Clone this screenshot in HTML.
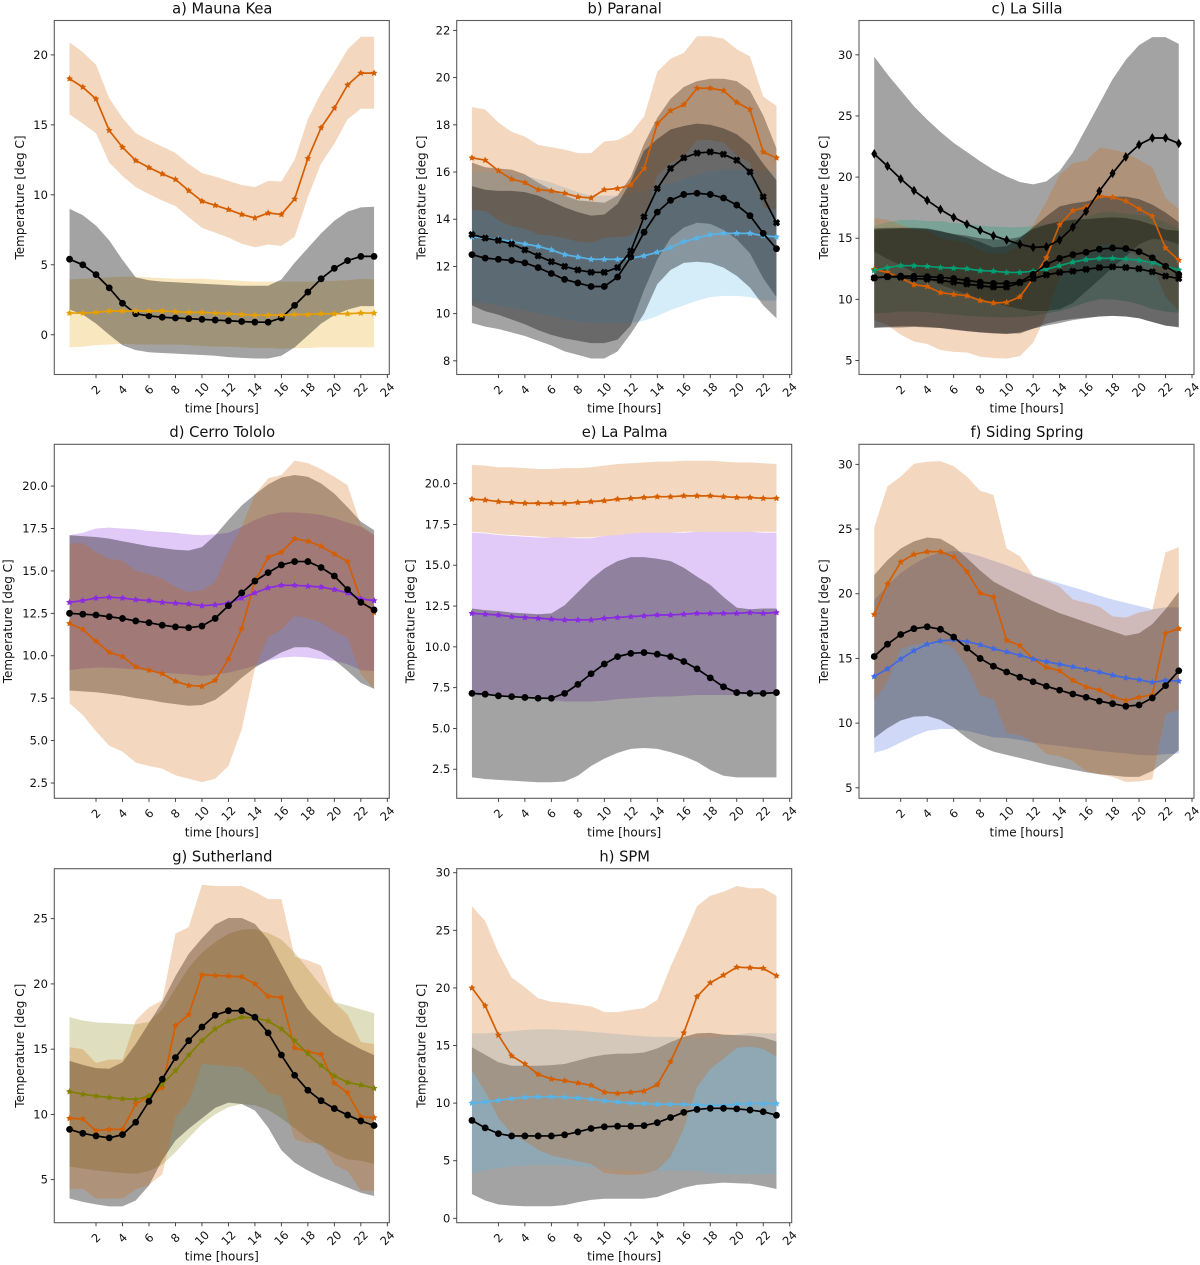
<!DOCTYPE html>
<html lang="en">
<head>
<meta charset="utf-8">
<title>Diurnal temperature at eight observatory sites</title>
<style>
html,body{margin:0;padding:0;background:#fff;width:1200px;height:1265px;overflow:hidden}
svg{display:block;filter:blur(0.35px)}
text{font-family:"DejaVu Sans","Liberation Sans",sans-serif;fill:#111}
</style>
</head>
<body>
<svg id="chart" xmlns="http://www.w3.org/2000/svg" width="1200" height="1265" viewBox="0 0 1200 1265"></svg>
<script>
const hours = [0,1,2,3,4,5,6,7,8,9,10,11,12,13,14,15,16,17,18,19,20,21,22,23];
const xTicks = [2,4,6,8,10,12,14,16,18,20,22,24];

/* a) Mauna Kea */
const aYTicks = ["0","5","10","15","20"];
const aOrangeMean = [18.3,17.7,16.85,14.6,13.4,12.45,11.95,11.5,11.1,10.3,9.55,9.25,8.95,8.6,8.35,8.7,8.6,9.7,12.6,14.8,16.2,17.85,18.7,18.7];
const aOrangeUpper = [20.9,20.2,19.3,16.9,15.5,14.4,13.9,13.45,13.0,12.2,11.55,11.3,11.0,10.7,10.55,11.0,10.95,12.5,15.4,17.3,18.8,20.4,21.3,21.3];
const aOrangeLower = [15.75,15.1,14.4,12.3,11.35,10.55,10.05,9.6,9.2,8.4,7.65,7.3,6.95,6.5,6.25,6.45,6.35,7.0,9.85,12.25,13.65,15.4,16.15,16.15];
const aBlackMean = [5.4,5.0,4.3,3.35,2.25,1.5,1.35,1.25,1.2,1.15,1.1,1.05,1.0,0.95,0.9,0.9,1.2,2.1,3.05,4.0,4.75,5.3,5.6,5.6];
const aBlackUpper = [9.0,8.55,7.8,6.75,5.35,4.1,3.9,3.8,3.75,3.7,3.65,3.6,3.55,3.5,3.5,3.5,3.95,5.15,6.2,7.25,8.15,8.8,9.1,9.15];
const aBlackLower = [1.8,1.45,0.8,0.0,-0.75,-1.1,-1.25,-1.3,-1.35,-1.4,-1.45,-1.5,-1.6,-1.65,-1.7,-1.7,-1.5,-0.9,-0.05,0.8,1.4,1.8,2.05,2.05];
const aYellowMean = [1.55,1.55,1.6,1.7,1.7,1.7,1.7,1.7,1.65,1.6,1.6,1.55,1.5,1.45,1.4,1.4,1.4,1.45,1.45,1.5,1.5,1.5,1.55,1.55];
const aYellowUpper = [3.95,4.0,4.05,4.1,4.15,4.15,4.1,4.05,4.0,4.0,4.0,3.95,3.9,3.85,3.8,3.8,3.8,3.8,3.8,3.85,3.85,3.9,4.0,3.95];
const aYellowLower = [-0.9,-0.85,-0.75,-0.7,-0.65,-0.7,-0.7,-0.7,-0.7,-0.75,-0.8,-0.85,-0.85,-0.9,-0.95,-0.95,-1.0,-0.95,-0.95,-0.9,-0.9,-0.9,-0.9,-0.9];

/* b) Paranal */
const bYTicks = ["8","10","12","14","16","18","20","22"];
const bOrangeMean = [16.6,16.5,16.05,15.7,15.55,15.25,15.2,15.1,14.95,14.9,15.25,15.3,15.45,16.15,18.05,18.6,18.85,19.55,19.55,19.45,18.95,18.65,16.85,16.6];
const bOrangeUpper = [18.75,18.65,18.1,17.7,17.5,17.15,17.05,16.95,16.8,16.8,17.3,17.35,17.65,18.35,20.25,20.8,21.05,21.75,21.75,21.65,21.2,20.9,19.2,18.8];
const bOrangeLower = [14.4,14.35,13.95,13.7,13.6,13.35,13.3,13.2,13.05,13.0,13.2,13.25,13.3,13.95,15.85,16.4,16.65,17.35,17.35,17.25,16.7,16.4,14.5,14.4];
const bBlackXMean = [13.35,13.2,13.1,12.95,12.7,12.45,12.2,12.0,11.85,11.75,11.75,11.95,12.65,14.1,15.3,16.15,16.6,16.8,16.85,16.75,16.5,16.0,14.95,13.85];
const bBlackXUpper = [16.4,16.2,16.15,16.1,15.9,15.55,15.25,15.0,14.8,14.75,14.7,15.0,15.8,17.2,18.3,19.1,19.6,19.85,19.95,19.95,19.85,19.45,18.4,17.0];
const bBlackXLower = [10.35,10.1,9.95,9.75,9.55,9.3,9.1,8.95,8.85,8.75,8.75,8.9,9.5,11.0,12.3,13.2,13.65,13.85,13.8,13.55,13.15,12.55,11.5,10.7];
const bBlackMean = [12.5,12.35,12.3,12.25,12.15,11.95,11.7,11.45,11.3,11.15,11.15,11.55,12.4,13.45,14.3,14.8,15.05,15.1,15.05,14.9,14.6,14.15,13.4,12.75];
const bBlackUpper = [15.4,15.25,15.2,15.2,15.15,15.0,14.75,14.5,14.3,14.15,14.2,14.65,15.6,16.9,17.4,17.8,17.95,18.05,18.0,17.85,17.6,17.15,16.35,15.65];
const bBlackLower = [9.6,9.45,9.35,9.2,9.05,8.85,8.65,8.4,8.25,8.1,8.1,8.4,9.15,10.0,11.25,11.85,12.15,12.2,12.15,11.95,11.6,11.1,10.35,9.8];
const bSkyMean = [13.25,13.2,13.15,13.05,12.95,12.85,12.7,12.5,12.4,12.3,12.3,12.3,12.35,12.45,12.6,12.8,13.05,13.2,13.35,13.4,13.4,13.4,13.3,13.25];
const bSkyUpper = [16.05,16.0,15.95,15.9,15.85,15.7,15.55,15.35,15.15,15.0,15.0,15.0,15.1,15.2,15.4,15.5,15.7,15.9,16.0,16.1,16.1,16.1,16.05,16.05];
const bSkyLower = [10.5,10.45,10.35,10.25,10.15,10.0,9.9,9.75,9.65,9.6,9.6,9.6,9.6,9.7,9.9,10.15,10.35,10.55,10.7,10.75,10.75,10.7,10.55,10.55];

/* c) La Silla */
const cYTicks = ["5","10","15","20","25","30"];
const cOrangeMean = [12.45,12.2,11.75,11.2,11.05,10.55,10.4,10.3,9.9,9.7,9.75,10.2,11.7,13.4,16.1,17.25,17.55,18.45,18.35,18.05,17.4,16.8,14.2,13.2];
const cOrangeUpper = [16.65,16.5,16.1,15.7,15.6,15.0,14.8,14.6,14.0,13.7,13.8,14.4,16.1,18.0,20.2,21.15,21.35,22.4,22.25,22.0,21.4,20.8,18.3,17.4];
const cOrangeLower = [8.3,7.9,7.1,6.55,6.35,5.85,5.7,5.65,5.3,5.2,5.15,5.35,6.45,8.75,11.9,13.2,13.6,14.5,14.5,14.1,13.4,12.8,10.2,9.1];
const cDiamondMean = [21.9,20.9,19.85,18.9,18.1,17.35,16.7,16.15,15.65,15.2,14.85,14.5,14.25,14.3,14.85,15.9,17.2,18.85,20.3,21.65,22.65,23.2,23.2,22.75];
const cDiamondUpper = [29.85,28.4,27.1,25.8,24.7,23.7,22.8,22.05,21.3,20.6,20.05,19.6,19.4,19.65,20.5,22.0,24.0,26.0,28.0,29.6,30.8,31.45,31.45,30.9];
const cDiamondLower = [13.9,13.3,12.8,12.2,11.7,11.2,10.8,10.4,10.05,9.75,9.45,9.2,9.05,9.05,9.2,9.7,10.65,11.6,12.6,13.5,14.5,14.95,14.85,14.5];
const cCircleMean = [11.75,11.85,11.9,11.9,11.85,11.8,11.7,11.55,11.4,11.3,11.3,11.4,12.05,12.85,13.35,13.65,13.85,14.1,14.2,14.15,13.9,13.4,12.7,12.05];
const cCircleUpper = [15.8,15.85,15.85,15.85,15.8,15.6,15.3,15.05,14.7,14.25,14.35,15.0,15.9,16.8,17.6,17.85,18.0,18.3,18.4,18.4,18.2,17.75,17.1,16.3];
const cCircleLower = [7.7,7.7,7.7,7.75,7.7,7.65,7.5,7.4,7.3,7.25,7.2,7.2,7.6,7.85,8.05,8.3,8.45,8.6,8.65,8.6,8.45,8.15,7.85,7.7];
const cXMean = [11.75,11.85,11.8,11.7,11.65,11.55,11.4,11.25,11.1,11.0,11.0,11.35,11.7,12.0,12.2,12.3,12.45,12.6,12.65,12.6,12.5,12.25,11.9,11.7];
const cXUpper = [15.7,15.75,15.8,15.8,15.75,15.55,15.35,15.2,15.0,14.9,14.9,15.1,15.75,16.1,16.35,16.5,16.55,16.65,16.7,16.65,16.45,16.1,15.7,15.6];
const cXLower = [7.65,7.75,7.8,7.8,7.75,7.65,7.55,7.4,7.3,7.2,7.15,7.3,7.6,8.0,8.25,8.4,8.5,8.6,8.65,8.6,8.45,8.15,7.85,7.75];
const cGreenMean = [12.35,12.6,12.75,12.75,12.7,12.6,12.55,12.5,12.35,12.3,12.2,12.2,12.3,12.45,12.75,13.05,13.25,13.35,13.35,13.3,13.2,13.0,12.7,12.4];
const cGreenUpper = [16.0,16.3,16.5,16.5,16.4,16.4,16.25,16.15,16.05,15.95,15.9,15.9,16.0,16.15,16.4,16.55,16.7,17.1,17.15,17.0,16.9,16.7,16.3,15.8];
const cGreenLower = [8.85,8.9,9.0,9.0,8.95,8.85,8.75,8.65,8.6,8.55,8.5,8.55,8.65,8.85,9.05,9.35,9.75,10.0,10.0,9.85,9.6,9.2,9.0,8.9];

/* d) Cerro Tololo */
const dYTicks = ["2.5","5.0","7.5","10.0","12.5","15.0","17.5","20.0"];
const dOrangeMean = [11.9,11.55,10.85,10.2,9.95,9.35,9.15,8.95,8.5,8.25,8.2,8.55,9.8,11.6,14.4,15.8,16.1,16.9,16.75,16.45,16.0,15.55,13.3,12.55];
const dOrangeUpper = [16.6,16.65,16.1,15.7,15.6,15.0,14.8,14.55,14.05,13.75,13.85,14.35,16.1,17.6,19.5,20.45,20.65,21.5,21.35,21.0,20.55,20.05,17.7,17.15];
const dOrangeLower = [7.2,6.5,5.55,4.7,4.35,3.7,3.5,3.35,2.95,2.75,2.55,2.75,3.5,5.65,9.25,11.1,11.55,12.35,12.2,11.95,11.45,11.05,8.9,8.05];
const dBlackMean = [12.5,12.45,12.4,12.3,12.2,12.05,11.95,11.8,11.7,11.65,11.75,12.2,12.95,13.7,14.4,14.9,15.35,15.55,15.55,15.2,14.7,13.9,13.15,12.7];
const dBlackUpper = [17.1,17.05,17.0,16.9,16.75,16.6,16.45,16.35,16.25,16.2,16.4,17.1,18.0,18.85,19.5,20.1,20.5,20.65,20.55,20.15,19.55,18.75,17.9,17.4];
const dBlackLower = [7.95,7.9,7.85,7.75,7.65,7.5,7.4,7.25,7.15,7.05,7.1,7.4,8.0,8.7,9.3,9.75,10.2,10.5,10.5,10.25,9.75,9.1,8.4,8.05];
const dPurpleMean = [13.15,13.25,13.4,13.45,13.4,13.3,13.25,13.15,13.1,13.05,12.95,13.0,13.1,13.4,13.7,14.0,14.15,14.15,14.1,14.05,13.9,13.7,13.35,13.25];
const dPurpleUpper = [17.1,17.25,17.5,17.55,17.5,17.45,17.35,17.3,17.25,17.15,17.1,17.15,17.25,17.6,18.0,18.3,18.45,18.45,18.4,18.3,18.1,17.85,17.6,17.1];
const dPurpleLower = [9.15,9.25,9.3,9.3,9.25,9.2,9.1,9.0,8.95,8.9,8.8,8.9,9.0,9.2,9.4,9.7,9.9,9.95,9.9,9.8,9.7,9.5,9.15,9.1];

/* e) La Palma */
const eYTicks = ["2.5","5.0","7.5","10.0","12.5","15.0","17.5","20.0"];
const eOrangeMean = [19.05,19.0,18.9,18.85,18.8,18.8,18.8,18.8,18.85,18.9,18.95,19.05,19.1,19.15,19.2,19.2,19.25,19.25,19.25,19.2,19.15,19.15,19.1,19.1];
const eOrangeUpper = [21.15,21.1,21.0,21.0,20.95,20.9,20.9,20.95,20.95,21.0,21.1,21.2,21.25,21.3,21.35,21.35,21.4,21.4,21.4,21.35,21.3,21.3,21.25,21.2];
const eOrangeLower = [17.05,17.0,16.9,16.85,16.8,16.75,16.7,16.7,16.7,16.7,16.8,16.85,16.95,17.0,17.0,17.0,17.05,17.05,17.05,17.05,17.05,17.05,17.05,17.05];
const ePurpleMean = [12.05,12.0,11.95,11.85,11.8,11.75,11.7,11.65,11.65,11.65,11.75,11.8,11.85,11.9,11.95,11.95,12.0,12.05,12.05,12.05,12.05,12.1,12.05,12.1];
const ePurpleUpper = [17.0,16.95,16.85,16.8,16.75,16.7,16.7,16.7,16.65,16.65,16.8,16.85,16.95,17.0,17.0,17.0,17.0,17.05,17.05,17.05,17.05,17.05,17.0,17.0];
const ePurpleLower = [7.05,7.0,7.0,6.95,6.9,6.85,6.75,6.65,6.65,6.65,6.7,6.8,6.85,6.9,6.95,6.95,7.0,7.05,7.05,7.05,7.05,7.1,7.1,7.1];
const eBlackMean = [7.15,7.1,7.0,6.95,6.9,6.85,6.85,7.15,7.7,8.35,8.95,9.4,9.6,9.65,9.55,9.4,9.1,8.65,8.1,7.55,7.2,7.15,7.15,7.2];
const eBlackUpper = [12.35,12.25,12.2,12.1,12.05,12.0,12.05,12.55,13.35,14.15,14.8,15.25,15.5,15.5,15.4,15.25,14.85,14.3,13.8,13.05,12.4,12.3,12.35,12.35];
const eBlackLower = [2.0,1.9,1.85,1.8,1.75,1.7,1.7,1.75,2.1,2.7,3.15,3.5,3.75,3.8,3.75,3.55,3.3,2.95,2.45,2.1,2.0,2.0,2.0,2.0];

/* f) Siding Spring */
const fYTicks = ["5","10","15","20","25","30"];
const fOrangeMean = [18.4,20.75,22.45,23.05,23.25,23.25,22.85,21.7,20.05,19.75,16.4,16.0,14.95,14.3,14.05,13.3,12.8,12.55,12.05,11.75,12.0,12.2,16.95,17.3];
const fOrangeUpper = [25.15,28.3,29.05,30.05,30.2,30.25,29.85,29.05,27.95,27.65,23.5,22.9,21.4,21.0,20.55,19.55,19.3,19.0,18.25,18.15,18.55,18.75,23.2,23.6];
const fOrangeLower = [11.7,13.2,15.75,16.05,16.3,16.25,15.8,14.35,12.15,11.85,9.25,9.05,8.55,7.6,7.45,7.05,6.3,6.05,5.85,5.45,5.5,5.65,10.7,11.05];
const fBlackMean = [15.15,16.1,16.85,17.3,17.45,17.25,16.65,15.8,15.0,14.4,13.95,13.55,13.2,12.85,12.55,12.25,12.0,11.7,11.5,11.3,11.4,11.95,12.9,14.05];
const fBlackUpper = [21.45,22.6,23.5,24.05,24.35,24.25,23.65,22.75,21.8,20.95,20.4,19.9,19.4,18.95,18.5,18.15,17.8,17.45,17.1,16.75,16.95,17.65,18.8,20.15];
const fBlackLower = [8.85,9.6,10.2,10.5,10.55,10.25,9.65,8.85,8.2,7.8,7.55,7.3,7.05,6.8,6.6,6.4,6.2,6.05,5.95,5.85,5.85,6.3,7.05,7.9];
const fBlueMean = [13.6,14.2,14.95,15.6,16.1,16.35,16.45,16.3,16.05,15.75,15.5,15.25,14.95,14.75,14.55,14.35,14.15,13.95,13.7,13.5,13.35,13.15,13.3,13.25];
const fBlueUpper = [19.5,20.65,21.6,22.3,22.85,23.2,23.3,23.2,22.9,22.55,22.2,21.8,21.4,21.1,20.8,20.5,20.2,19.85,19.55,19.3,19.05,18.8,18.95,18.95];
const fBlueLower = [7.7,8.0,8.5,9.0,9.4,9.55,9.55,9.4,9.15,8.9,8.85,8.7,8.5,8.35,8.25,8.1,8.0,7.85,7.75,7.65,7.55,7.5,7.6,7.65];

/* g) Sutherland */
const gYTicks = ["5","10","15","20","25"];
const gOrangeMean = [9.7,9.65,8.75,8.85,8.85,10.8,11.4,12.05,16.8,17.65,20.7,20.65,20.6,20.55,20.0,19.05,18.95,15.1,14.8,14.6,12.4,11.65,9.8,9.75];
const gOrangeUpper = [15.15,15.0,13.95,14.2,14.2,17.2,18.2,18.75,23.85,24.35,27.6,27.5,27.5,27.5,27.05,26.5,26.5,22.1,21.8,21.4,18.6,17.65,15.55,15.4];
const gOrangeLower = [4.25,4.3,3.55,3.55,3.55,4.25,4.6,5.4,9.8,10.95,13.85,13.8,13.7,13.6,12.9,11.65,11.4,8.1,7.8,7.8,6.15,5.65,4.15,4.15];
const gBlackMean = [8.85,8.55,8.35,8.2,8.45,9.4,11.0,12.7,14.35,15.65,16.7,17.6,17.95,17.95,17.45,16.25,14.55,13.0,11.85,11.05,10.45,9.95,9.5,9.15];
const gBlackUpper = [14.1,13.8,13.55,13.5,14.0,15.4,17.0,18.6,20.6,22.3,23.5,24.55,25.05,25.05,24.6,23.4,21.5,19.6,18.05,17.0,16.15,15.55,15.0,14.55];
const gBlackLower = [3.55,3.3,3.1,2.95,2.95,3.4,4.55,6.5,8.0,8.9,9.7,10.5,10.9,10.8,10.3,9.0,7.25,6.3,5.7,5.2,4.8,4.4,4.0,3.75];
const gOliveMean = [11.75,11.55,11.4,11.3,11.2,11.15,11.4,12.3,13.35,14.55,15.65,16.55,17.15,17.45,17.4,17.15,16.55,15.65,14.65,13.75,12.95,12.45,12.25,12.0];
const gOliveUpper = [17.45,17.2,17.05,17.0,16.95,16.9,17.1,18.05,19.65,21.25,22.4,23.2,23.85,24.15,24.2,23.9,23.4,22.4,21.15,19.85,18.6,18.35,18.05,17.75];
const gOliveLower = [6.0,5.85,5.7,5.6,5.5,5.45,5.65,6.15,7.1,8.2,9.25,10.0,10.55,10.8,10.7,10.35,9.7,8.95,8.15,7.6,7.0,6.55,6.45,6.2];

/* h) SPM */
const hYTicks = ["0","5","10","15","20","25","30"];
const hOrangeMean = [20.0,18.45,15.9,14.1,13.4,12.5,12.1,11.95,11.75,11.55,10.95,10.85,10.95,11.05,11.6,13.6,16.1,19.25,20.45,21.1,21.8,21.75,21.7,21.05];
const hOrangeUpper = [27.1,25.8,23.05,20.9,20.05,19.1,18.8,18.7,18.55,18.4,17.9,17.9,18.1,18.25,18.95,21.85,24.4,27.1,28.0,28.35,28.85,28.65,28.65,28.0];
const hOrangeLower = [12.85,11.0,8.7,7.35,6.7,5.95,5.45,5.2,4.95,4.7,3.95,3.8,3.75,3.85,4.2,5.35,7.8,11.4,12.95,13.85,14.8,14.9,14.7,14.05];
const hBlackMean = [8.5,7.85,7.35,7.15,7.15,7.15,7.15,7.25,7.5,7.8,7.95,8.0,8.0,8.05,8.3,8.75,9.2,9.45,9.55,9.55,9.5,9.4,9.25,8.95];
const hBlackUpper = [14.85,14.2,13.55,13.25,13.25,13.25,13.3,13.4,13.7,14.0,14.2,14.3,14.3,14.4,14.75,15.3,15.75,16.05,16.1,15.95,15.9,15.85,15.7,15.35];
const hBlackLower = [2.1,1.55,1.2,1.1,1.05,1.05,1.05,1.15,1.4,1.6,1.7,1.7,1.7,1.7,1.85,2.25,2.65,2.9,3.0,3.1,3.05,3.0,2.8,2.55];
const hSkyMean = [10.0,10.1,10.25,10.4,10.5,10.55,10.55,10.5,10.45,10.35,10.2,10.1,10.0,9.95,9.9,9.9,9.9,9.85,9.8,9.8,9.9,9.95,9.95,9.95];
const hSkyUpper = [16.05,16.05,16.15,16.25,16.35,16.4,16.4,16.35,16.3,16.2,16.1,16.0,15.9,15.8,15.75,15.75,15.7,15.65,15.65,15.85,15.95,16.1,16.05,16.05];
const hSkyLower = [3.9,4.15,4.35,4.5,4.6,4.65,4.65,4.6,4.55,4.45,4.3,4.2,4.15,4.1,4.1,4.15,4.15,4.1,3.95,3.85,3.8,3.8,3.85,3.85];

const NS = 'http://www.w3.org/2000/svg';
const svg = document.getElementById('chart');
const ORANGE = '#D55E00', BLACK = '#000000', YELLOW = '#E69F00', SKY = '#56B4E9',
      GREEN = '#009E73', PURPLE = '#8A2BE2', BLUE = '#4169E1', OLIVE = '#808000';

function make(tag, parent, attrs) {
  const el = document.createElementNS(NS, tag);
  for (const k in attrs) el.setAttribute(k, attrs[k]);
  parent.appendChild(el);
  return el;
}

function markerPath(kind, x, y) {
  const f = n => n.toFixed(2);
  if (kind === 'star') {
    let d = '';
    for (let i = 0; i < 10; i++) {
      const r = i % 2 ? 1.8 : 3.6;
      const a = -Math.PI / 2 + i * Math.PI / 5;
      d += (i ? 'L' : 'M') + f(x + r * Math.cos(a)) + ' ' + f(y + r * Math.sin(a));
    }
    return d + 'Z';
  }
  if (kind === 'diamond') {
    return 'M' + f(x) + ' ' + f(y - 4.8) + 'L' + f(x + 3) + ' ' + f(y) + 'L' + f(x) + ' ' + f(y + 4.8) + 'L' + f(x - 3) + ' ' + f(y) + 'Z';
  }
  if (kind === 'x') {
    const a = 3.7, b = 2.3;
    return 'M' + f(x - a) + ' ' + f(y - a + b) + 'L' + f(x - a + b) + ' ' + f(y - a) + 'L' + f(x) + ' ' + f(y - b) +
      'L' + f(x + a - b) + ' ' + f(y - a) + 'L' + f(x + a) + ' ' + f(y - a + b) + 'L' + f(x + b) + ' ' + f(y) +
      'L' + f(x + a) + ' ' + f(y + a - b) + 'L' + f(x + a - b) + ' ' + f(y + a) + 'L' + f(x) + ' ' + f(y + b) +
      'L' + f(x - a + b) + ' ' + f(y + a) + 'L' + f(x - a) + ' ' + f(y + a - b) + 'L' + f(x - b) + ' ' + f(y) + 'Z';
  }
  return 'M' + f(x - 3.4) + ' ' + f(y) + 'A3.4 3.4 0 1 0 ' + f(x + 3.4) + ' ' + f(y) + 'A3.4 3.4 0 1 0 ' + f(x - 3.4) + ' ' + f(y) + 'Z';
}

function drawPanel(p) {
  const width = 335, height = 354;
  const xMin = -1.15, xMax = 24.15;
  const xScale = v => p.left + (v - xMin) / (xMax - xMin) * width;
  const yScale = v => p.top + height - (v - p.yMin) / (p.yMax - p.yMin) * height;

  const g = make('g', svg, {});
  
  

  const title = make('text', g, {x: p.left + width / 2 + 0.5, y: p.top - 7.2, 'text-anchor': 'middle', 'font-size': '14.7'});
  
  
  title.textContent = p.title;

  /* series are listed in band stacking order; z gives the line stacking order */
  p.series.forEach(s => {
    const top = hours.map((h, i) => xScale(h).toFixed(2) + ',' + yScale(s.upper[i]).toFixed(2));
    const bottom = hours.map((h, i) => xScale(h).toFixed(2) + ',' + yScale(s.lower[i]).toFixed(2)).reverse();
    const band = make('polygon', g, {points: top.concat(bottom).join(' '), fill: s.color, 'fill-opacity': s.color === BLACK ? 0.36 : 0.25});
    
    
  });

  p.series.slice().sort((u, v) => u.z - v.z).forEach(s => {
    const line = make('polyline', g, {
      points: hours.map((h, i) => xScale(h).toFixed(2) + ',' + yScale(s.mean[i]).toFixed(2)).join(' '),
      fill: 'none', stroke: s.color, 'stroke-width': 1.7, 'stroke-linejoin': 'round'
    });
    
    
    hours.forEach((h, i) => {
      const point = make('path', g, {d: markerPath(s.marker, xScale(h), yScale(s.mean[i])), fill: s.color});
      
      
    });
  });

  const frame = make('rect', g, {x: p.left, y: p.top, width: width, height: height, fill: 'none', stroke: '#5c5c5c', 'stroke-width': 1.1});
  
  

  xTicks.forEach(t => {
    const x = xScale(t), base = p.top + height;
    const tick = make('line', g, {x1: x, x2: x, y1: base, y2: base + 3.6, stroke: '#333', 'stroke-width': 0.9});
    
    
    const label = make('text', g, {
      x: x, y: base + 15.3, 'text-anchor': 'middle', 'dominant-baseline': 'central', 'font-size': '11.5',
      transform: 'rotate(-45 ' + x.toFixed(2) + ' ' + (base + 15.3).toFixed(2) + ')'
    });
    
    
    label.textContent = String(t);
  });

  p.yTicks.forEach(t => {
    const y = yScale(Number(t));
    const tick = make('line', g, {x1: p.left - 3.6, x2: p.left, y1: y, y2: y, stroke: '#333', 'stroke-width': 0.9});
    
    
    const label = make('text', g, {x: p.left - 6.4, y: y, 'text-anchor': 'end', 'dominant-baseline': 'central', 'font-size': '11.5'});
    
    
    label.textContent = t;
  });

  const xLabel = make('text', g, {x: p.left + width / 2, y: p.top + height + 38, 'text-anchor': 'middle', 'font-size': '12'});
  
  
  xLabel.textContent = 'time [hours]';

  const cy = p.top + height / 2;
  const yLabel = make('text', g, {
    x: p.labelX, y: cy, 'text-anchor': 'middle', 'dominant-baseline': 'central', 'font-size': '12',
    transform: 'rotate(-90 ' + p.labelX + ' ' + cy + ')'
  });
  
  
  yLabel.textContent = 'Temperature [deg C]';
}

drawPanel({name: 'mauna-kea', title: 'a) Mauna Kea', left: 54.3, top: 20.5, labelX: 20, yMin: -2.84, yMax: 22.46, yTicks: aYTicks, series: [
  {id: 'orange', z: 0, color: ORANGE, marker: 'star', mean: aOrangeMean, upper: aOrangeUpper, lower: aOrangeLower},
  {id: 'yellow', z: 2, color: YELLOW, marker: 'star', mean: aYellowMean, upper: aYellowUpper, lower: aYellowLower},
  {id: 'black', z: 1, color: BLACK, marker: 'circle', mean: aBlackMean, upper: aBlackUpper, lower: aBlackLower}
]});
drawPanel({name: 'paranal', title: 'b) Paranal', left: 456.7, top: 20.5, labelX: 421.7, yMin: 7.42, yMax: 22.42, yTicks: bYTicks, series: [
  {id: 'black-x', z: 2, color: BLACK, marker: 'x', mean: bBlackXMean, upper: bBlackXUpper, lower: bBlackXLower},
  {id: 'sky', z: 1, color: SKY, marker: 'star', mean: bSkyMean, upper: bSkyUpper, lower: bSkyLower},
  {id: 'orange', z: 0, color: ORANGE, marker: 'star', mean: bOrangeMean, upper: bOrangeUpper, lower: bOrangeLower},
  {id: 'black', z: 3, color: BLACK, marker: 'circle', mean: bBlackMean, upper: bBlackUpper, lower: bBlackLower}
]});
drawPanel({name: 'la-silla', title: 'c) La Silla', left: 859, top: 20.5, labelX: 824, yMin: 3.85, yMax: 32.81, yTicks: cYTicks, series: [
  {id: 'black-diamond', z: 2, color: BLACK, marker: 'diamond', mean: cDiamondMean, upper: cDiamondUpper, lower: cDiamondLower},
  {id: 'green', z: 1, color: GREEN, marker: 'star', mean: cGreenMean, upper: cGreenUpper, lower: cGreenLower},
  {id: 'orange', z: 0, color: ORANGE, marker: 'star', mean: cOrangeMean, upper: cOrangeUpper, lower: cOrangeLower},
  {id: 'black-circle', z: 3, color: BLACK, marker: 'circle', mean: cCircleMean, upper: cCircleUpper, lower: cCircleLower},
  {id: 'black-x', z: 4, color: BLACK, marker: 'x', mean: cXMean, upper: cXUpper, lower: cXLower}
]});
drawPanel({name: 'cerro-tololo', title: 'd) Cerro Tololo', left: 54.3, top: 444.3, labelX: 8, yMin: 1.6, yMax: 22.46, yTicks: dYTicks, series: [
  {id: 'purple', z: 1, color: PURPLE, marker: 'star', mean: dPurpleMean, upper: dPurpleUpper, lower: dPurpleLower},
  {id: 'black', z: 2, color: BLACK, marker: 'circle', mean: dBlackMean, upper: dBlackUpper, lower: dBlackLower},
  {id: 'orange', z: 0, color: ORANGE, marker: 'star', mean: dOrangeMean, upper: dOrangeUpper, lower: dOrangeLower}
]});
drawPanel({name: 'la-palma', title: 'e) La Palma', left: 456.7, top: 444.3, labelX: 410.7, yMin: 0.72, yMax: 22.41, yTicks: eYTicks, series: [
  {id: 'purple', z: 1, color: PURPLE, marker: 'star', mean: ePurpleMean, upper: ePurpleUpper, lower: ePurpleLower},
  {id: 'black', z: 2, color: BLACK, marker: 'circle', mean: eBlackMean, upper: eBlackUpper, lower: eBlackLower},
  {id: 'orange', z: 0, color: ORANGE, marker: 'star', mean: eOrangeMean, upper: eOrangeUpper, lower: eOrangeLower}
]});
drawPanel({name: 'siding-spring', title: 'f) Siding Spring', left: 859, top: 444.3, labelX: 824, yMin: 4.19, yMax: 31.55, yTicks: fYTicks, series: [
  {id: 'blue', z: 1, color: BLUE, marker: 'star', mean: fBlueMean, upper: fBlueUpper, lower: fBlueLower},
  {id: 'black', z: 2, color: BLACK, marker: 'circle', mean: fBlackMean, upper: fBlackUpper, lower: fBlackLower},
  {id: 'orange', z: 0, color: ORANGE, marker: 'star', mean: fOrangeMean, upper: fOrangeUpper, lower: fOrangeLower}
]});
drawPanel({name: 'sutherland', title: 'g) Sutherland', left: 54.3, top: 868.7, labelX: 20, yMin: 1.7, yMax: 28.83, yTicks: gYTicks, series: [
  {id: 'olive', z: 1, color: OLIVE, marker: 'star', mean: gOliveMean, upper: gOliveUpper, lower: gOliveLower},
  {id: 'black', z: 2, color: BLACK, marker: 'circle', mean: gBlackMean, upper: gBlackUpper, lower: gBlackLower},
  {id: 'orange', z: 0, color: ORANGE, marker: 'star', mean: gOrangeMean, upper: gOrangeUpper, lower: gOrangeLower}
]});
drawPanel({name: 'spm', title: 'h) SPM', left: 456.7, top: 868.7, labelX: 421.7, yMin: -0.38, yMax: 30.35, yTicks: hYTicks, series: [
  {id: 'black', z: 2, color: BLACK, marker: 'circle', mean: hBlackMean, upper: hBlackUpper, lower: hBlackLower},
  {id: 'sky', z: 1, color: SKY, marker: 'star', mean: hSkyMean, upper: hSkyUpper, lower: hSkyLower},
  {id: 'orange', z: 0, color: ORANGE, marker: 'star', mean: hOrangeMean, upper: hOrangeUpper, lower: hOrangeLower}
]});
</script>
</body>
</html>
